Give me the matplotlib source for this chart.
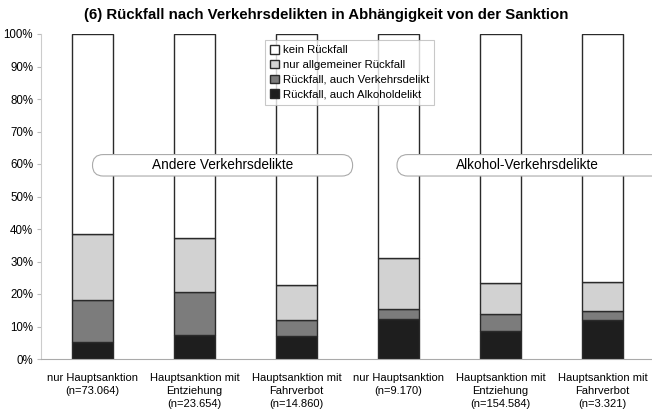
import matplotlib.pyplot as plt
from matplotlib.patches import FancyBboxPatch
import numpy as np

plt.rcParams['font.family'] = ['Liberation Sans', 'DejaVu Sans']

# Anteile in Prozent je Sanktionsgruppe
kategorien = ["nur Hauptsanktion\n(n=73.064)",
              "Hauptsanktion mit\nEntziehung\n(n=23.654)",
              "Hauptsanktion mit\nFahrverbot\n(n=14.860)",
              "nur Hauptsanktion\n(n=9.170)",
              "Hauptsanktion mit\nEntziehung\n(n=154.584)",
              "Hauptsanktion mit\nFahrverbot\n(n=3.321)"]
alkohol = [5.2, 7.4, 7.2, 12.3, 8.7, 12.0]
verkehr = [13.0, 13.3, 4.7, 3.2, 5.1, 2.8]
allgemein = [20.4, 16.5, 10.9, 15.7, 9.5, 8.8]
kein = [100 - a - v - g for a, v, g in zip(alkohol, verkehr, allgemein)]

serien = [("Rückfall, auch Alkoholdelikt", alkohol, "#1e1e1e"),
          ("Rückfall, auch Verkehrsdelikt", verkehr, "#7c7c7c"),
          ("nur allgemeiner Rückfall", allgemein, "#d2d2d2"),
          ("kein Rückfall", kein, "#ffffff")]

fig = plt.figure(figsize=(6.52, 4.13), dpi=100)
ax = fig.add_axes([41.5 / 652, 54 / 413, 610.5 / 652, 325 / 413])

x = np.arange(len(kategorien))
bottom = np.zeros(len(kategorien))
handles = []
for name, vals, col in serien:
    b = ax.bar(x, vals, 0.4, bottom=bottom, color=col, edgecolor="#2a2a2a",
               linewidth=1.0, label=name, zorder=2)
    handles.append(b)
    bottom += np.array(vals)

ax.set_xlim(-0.5, 5.485)
ax.set_ylim(0, 100)
ax.set_yticks(range(0, 101, 10))
ax.set_yticklabels([f"{v}%" for v in range(0, 101, 10)], fontsize=8.3)
ax.set_xticks(x)
ax.set_xticklabels(kategorien, fontsize=8, linespacing=1.4)
ax.tick_params(axis="x", length=0, pad=10)
ax.tick_params(axis="y", length=3, color="#bbbbbb", pad=3)
for s in ["top", "right"]:
    ax.spines[s].set_visible(False)
ax.spines["left"].set_color("#cccccc")
ax.spines["bottom"].set_color("#aaaaaa")

# Gruppenbeschriftungen in abgerundeten Kästen
aspect = 102 / 3.25
for x0, x1, txt in [(0.0, 2.55, "Andere Verkehrsdelikte"),
                    (2.985, 5.6, "Alkohol-Verkehrsdelikte")]:
    box = FancyBboxPatch((x0, 56.3), x1 - x0, 6.6,
                         boxstyle="round,pad=0,rounding_size=0.105",
                         mutation_aspect=aspect, facecolor="white",
                         edgecolor="#aaaaaa", linewidth=0.8, zorder=4,
                         clip_on=False)
    ax.add_patch(box)
    ax.text((x0 + min(x1, 5.55)) / 2, 59.6, txt, ha="center", va="center",
            fontsize=9.8, zorder=5)

leg = ax.legend(handles[::-1], [s[0] for s in serien][::-1],
                loc="upper left", bbox_to_anchor=(0.357, 1.0),
                fontsize=8.2, frameon=True, fancybox=False,
                handlelength=0.8, handleheight=0.8, handletextpad=0.3,
                labelspacing=0.4, borderpad=0.45)
leg.get_frame().set_edgecolor("#bbbbbb")
leg.get_frame().set_linewidth(0.8)
leg.set_zorder(6)

fig.text(0.5, 0.963, "(6) Rückfall nach Verkehrsdelikten in Abhängigkeit von der Sanktion",
         ha="center", va="center", fontsize=10.8, fontweight="bold")

fig.savefig("out.png", dpi=100)
